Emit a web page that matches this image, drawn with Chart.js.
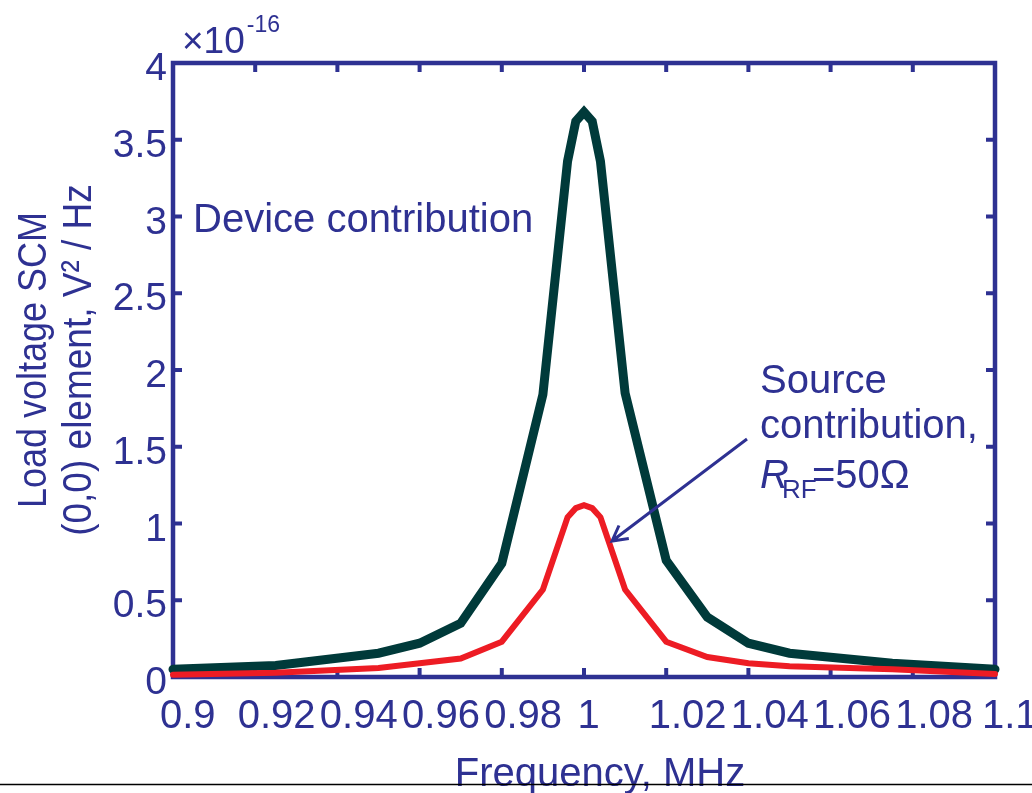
<!DOCTYPE html>
<html>
<head>
<meta charset="utf-8">
<script src="https://cdn.jsdelivr.net/npm/chart.js@4.4.0/dist/chart.umd.min.js"></script>
<style>
  html, body { margin: 0; padding: 0; background: #fff; }
  #wrap { width: 1032px; height: 793px; }
</style>
</head>
<body>
<div id="wrap"><canvas id="plots" width="1032" height="793"></canvas></div>
<script>
/* Frequency grid (MHz) and load voltage SCM (0,0) element, in units of 1e-16 V^2/Hz */
var freqMHz   = [0.9, 0.925, 0.95, 0.96, 0.97, 0.98, 0.99, 0.996, 0.998, 1.0, 1.002, 1.004, 1.01, 1.02, 1.03, 1.04, 1.05, 1.075, 1.1];
var deviceScm = [0.05, 0.075, 0.155, 0.22, 0.35, 0.74, 1.84, 3.36, 3.62, 3.68, 3.62, 3.36, 1.85, 0.76, 0.39, 0.22, 0.155, 0.09, 0.05];
var sourceScm = [0.015, 0.028, 0.058, 0.09, 0.12, 0.23, 0.57, 1.04, 1.1, 1.12, 1.1, 1.04, 0.57, 0.23, 0.13, 0.09, 0.07, 0.05, 0.02];

/* Axis ticks */
var xTickValues = [0.9, 0.92, 0.94, 0.96, 0.98, 1.0, 1.02, 1.04, 1.06, 1.08, 1.1];
var xTickLabels = ['0.9', '0.92', '0.94', '0.96', '0.98', '1', '1.02', '1.04', '1.06', '1.08', '1.1'];
var yTickValues = [0, 0.5, 1, 1.5, 2, 2.5, 3, 3.5, 4];
var yTickLabels = ['0', '0.5', '1', '1.5', '2', '2.5', '3', '3.5', '4'];
var yExponent = '-16';

const AXIS_BLUE = '#2e3192';
const FONT = '"Liberation Sans", Arial, sans-serif';

function toPoints(xs, ys) {
    return xs.map(function (x, i) { return { x: x, y: ys[i] }; });
}

function putText(ctx, str, x, y, size, align, italic) {
    ctx.font = (italic ? 'italic ' : '') + size + 'px ' + FONT;
    ctx.textAlign = align || 'left';
    ctx.textBaseline = 'alphabetic';
    ctx.fillText(str, x, y);
}

/* Box, inward ticks and tick labels, drawn under the curves */
var framePlugin = {
    id: 'frame',
    beforeDatasetsDraw: function (chart) {
        const ctx = chart.ctx, a = chart.chartArea;
        const xs = chart.scales.x, ys = chart.scales.y;
        ctx.save();
        ctx.strokeStyle = AXIS_BLUE;
        ctx.fillStyle = AXIS_BLUE;

        ctx.lineWidth = 4;
        ctx.beginPath();
        xTickValues.forEach(function (v) {
            let px = xs.getPixelForValue(v);
            ctx.moveTo(px, a.bottom); ctx.lineTo(px, a.bottom - 9);
            ctx.moveTo(px, a.top); ctx.lineTo(px, a.top + 9);
        });
        yTickValues.forEach(function (v) {
            let py = ys.getPixelForValue(v);
            ctx.moveTo(a.left, py); ctx.lineTo(a.left + 9, py);
            ctx.moveTo(a.right, py); ctx.lineTo(a.right - 9, py);
        });
        ctx.stroke();

        ctx.lineWidth = 4.5;
        ctx.strokeRect(a.left, a.top, a.right - a.left, a.bottom - a.top);

        // x tick labels sit a little right of their ticks, as in the source figure
        ctx.font = '40px ' + FONT;
        xTickValues.forEach(function (v, i) {
            let px = xs.getPixelForValue(v);
            let w = ctx.measureText(xTickLabels[i]).width;
            putText(ctx, xTickLabels[i], px - (0.2 * w + 2), a.bottom + 51, 40, 'left');
        });
        yTickValues.forEach(function (v, i) {
            let py = ys.getPixelForValue(v);
            putText(ctx, yTickLabels[i], a.left - 6, py + 17, 39, 'right');
        });

        // exponent above the y axis
        putText(ctx, '\u00d710', a.left + 9, a.top - 10, 37, 'left');
        ctx.font = '37px ' + FONT;
        let w10 = ctx.measureText('\u00d710').width;
        putText(ctx, yExponent, a.left + 11 + w10, a.top - 31, 23, 'left');
        ctx.restore();
    },
    afterDatasetsDraw: function (chart) {
        const ctx = chart.ctx, a = chart.chartArea;
        ctx.save();
        ctx.fillStyle = AXIS_BLUE;
        ctx.strokeStyle = AXIS_BLUE;

        // axis titles
        putText(ctx, 'Frequency, MHz', (a.left + a.right) / 2 + 16, 786, 40, 'center');
        ctx.save();
        ctx.translate(46, 360);
        ctx.scale(1.12, 1);
        ctx.rotate(-Math.PI / 2);
        putText(ctx, 'Load voltage SCM', 0, 0, 36, 'center');
        putText(ctx, '(0,0) element, V\u00b2 / Hz', 0, 40, 37, 'center');
        ctx.restore();

        // annotations
        putText(ctx, 'Device contribution', 193, 232, 40, 'left');
        putText(ctx, 'Source', 760, 393, 40, 'left');
        putText(ctx, 'contribution,', 760, 438, 40, 'left');
        putText(ctx, 'R', 760, 488, 40, 'left', true);
        putText(ctx, 'RF', 782, 498, 26, 'left');
        putText(ctx, '=50\u03a9', 812, 488, 40, 'left');

        // arrow to the source curve
        let x0 = 747, y0 = 439, x1 = 612, y1 = 541;
        let ang = Math.atan2(y0 - y1, x0 - x1);
        ctx.lineWidth = 3;
        ctx.beginPath();
        ctx.moveTo(x0, y0); ctx.lineTo(x1, y1);
        ctx.moveTo(x1 + 17 * Math.cos(ang - 0.5), y1 + 17 * Math.sin(ang - 0.5));
        ctx.lineTo(x1, y1);
        ctx.lineTo(x1 + 17 * Math.cos(ang + 0.5), y1 + 17 * Math.sin(ang + 0.5));
        ctx.stroke();

        // page rule under the figure
        ctx.strokeStyle = '#000';
        ctx.lineWidth = 1.5;
        ctx.beginPath();
        ctx.moveTo(0, 784.5); ctx.lineTo(chart.width, 784.5);
        ctx.stroke();
        ctx.restore();
    }
};

function loadChart() {
    var canvas = document.getElementById('plots').getContext('2d');
    new Chart(canvas, {
        type: 'line',
        data: {
            datasets: [{
                label: 'Source contribution',
                data: toPoints(freqMHz, sourceScm),
                borderColor: '#ed1c24',
                borderWidth: 6,
                borderCapStyle: 'round',
                borderJoinStyle: 'miter',
                pointRadius: 0,
                tension: 0,
                clip: false
            }, {
                label: 'Device contribution',
                data: toPoints(freqMHz, deviceScm),
                borderColor: '#003a3a',
                borderWidth: 9,
                borderCapStyle: 'round',
                borderJoinStyle: 'miter',
                pointRadius: 0,
                tension: 0,
                clip: false
            }]
        },
        options: {
            responsive: false,
            animation: false,
            layout: { padding: { left: 173, right: 37, top: 63, bottom: 116 } },
            scales: {
                x: { type: 'linear', min: 0.9, max: 1.1, display: false },
                y: { type: 'linear', min: 0, max: 4, display: false }
            },
            plugins: {
                legend: { display: false },
                tooltip: { enabled: false }
            }
        },
        plugins: [framePlugin]
    });
}

loadChart();
</script>
</body>
</html>
